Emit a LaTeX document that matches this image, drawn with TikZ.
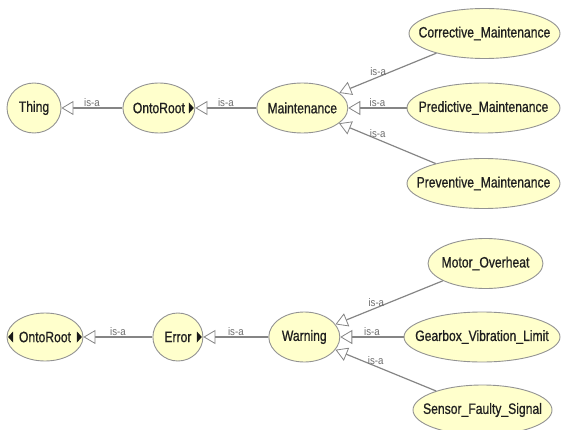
\documentclass[tikz,border=0pt]{standalone}
\usepackage{fontspec}
\setmainfont{Liberation Sans}
\newfontfamily\clsfont[FakeStretch=0.81,FakeBold=0.8]{Liberation Sans}
\newfontfamily\isafont[FakeStretch=0.88]{Liberation Sans}
\usetikzlibrary{positioning,arrows.meta,shapes.geometric}
\definecolor{clsfill}{HTML}{FFFFCC}
\definecolor{clsline}{HTML}{939393}
\definecolor{edgegrey}{HTML}{858585}
\definecolor{isagrey}{HTML}{6E6E6E}
\tikzset{
  cls/.style={ellipse, draw=clsline, fill=clsfill, line width=0.9pt,
              inner sep=0pt, minimum width=#1, minimum height=50pt,
              font=\clsfont\fontsize{15}{17}\selectfont, text=black!88,
              execute at begin node={\setbox0=\hbox\bgroup},
              execute at end node={\egroup\hbox to 0pt{\hss\box0\hss}}},
  subcl/.style={draw=edgegrey, line width=1.2pt,
                -{Triangle[open, fill=white, length=12pt, width=14pt, line width=0.8pt]}},
  isa/.style={font=\isafont\fontsize{11}{12}\selectfont, text=isagrey,
              inner sep=1pt, above},
  expd/.style={fill=black!90},
}
\begin{document}
\begin{tikzpicture}[x=1pt, y=-1pt]
  \useasboundingbox (0,0) rectangle (561,430);

  % upper tree
  \node[cls=54pt] (thing) at (34,108) {Thing};
  \node[cls=72pt, right=61pt of thing] (onto1) {OntoRoot};
  \node[cls=91pt, right=61pt of onto1] (maint) {Maintenance};
  \node[cls=151pt] (corr) at (484.5,33.5) {Corrective\_Maintenance};
  \node[cls=153pt] (pred) at (483.5,108) {Predictive\_Maintenance};
  \node[cls=153pt] (prev) at (483.5,183.5) {Preventive\_Maintenance};

  % lower tree
  \node[cls=76pt, minimum height=48pt] (onto2) at (45,337) {OntoRoot};
  \node[cls=50pt, minimum height=48pt, right=69pt of onto2] (err) {Error};
  \node[cls=71pt, right=65pt of err] (warn) {Warning};
  \node[cls=115pt] (motor) at (485.5,263.5) {Motor\_Overheat};
  \node[cls=156pt] (gear) at (482,337) {Gearbox\_Vibration\_Limit};
  \node[cls=139pt] (sens) at (482.5,410) {Sensor\_Faulty\_Signal};

  % expand markers
  \fill[expd] ([xshift=-1.5pt]onto1.east) -- ++(-5,-5.5) -- ++(0,11) -- cycle;
  \fill[expd] ([xshift=-1.5pt]onto2.east) -- ++(-5,-5.5) -- ++(0,11) -- cycle;
  \fill[expd] ([xshift=1.5pt]onto2.west) -- ++(5,-5.5) -- ++(0,11) -- cycle;
  \fill[expd] ([xshift=-1.5pt]err.east) -- ++(-5,-5.5) -- ++(0,11) -- cycle;

  \draw[subcl] (onto1) -- node[isa, midway] {is-a} (thing);
  \draw[subcl] (maint) -- node[isa, midway] {is-a} (onto1);
  \draw[subcl] (corr) -- node[isa, pos=0.6] {is-a} (maint);
  \draw[subcl] (pred) -- node[isa, midway] {is-a} (maint);
  \draw[subcl] (prev) -- node[isa, pos=0.6] {is-a} (maint);

  \draw[subcl] (err) -- node[isa, midway] {is-a} (onto2);
  \draw[subcl] (warn) -- node[isa, midway] {is-a} (err);
  \draw[subcl] (motor) -- node[isa, pos=0.62] {is-a} (warn);
  \draw[subcl] (gear) -- node[isa, midway] {is-a} (warn);
  \draw[subcl] (sens) -- node[isa, pos=0.6] {is-a} (warn);
\end{tikzpicture}
\end{document}
